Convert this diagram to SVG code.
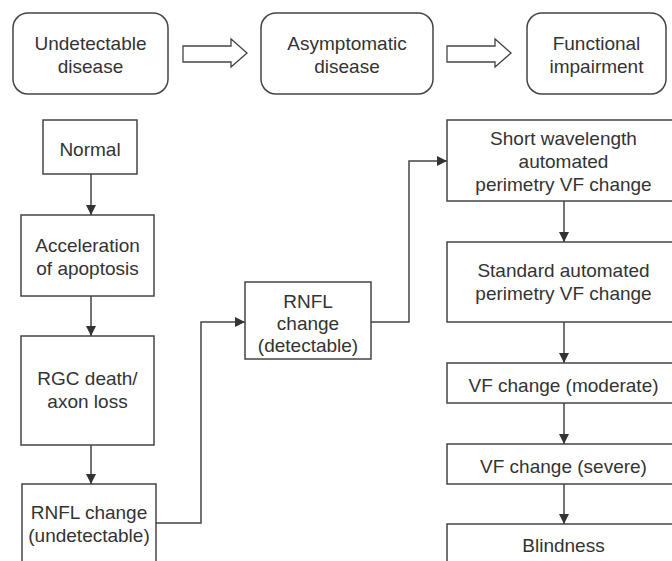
<svg xmlns="http://www.w3.org/2000/svg" width="672" height="561" viewBox="0 0 672 561">
  <style>
    .box { fill: #ffffff; stroke: #444444; stroke-width: 1.5; }
    .stage { fill: #ffffff; stroke: #444444; stroke-width: 1.5; }
    .block { fill: #ffffff; stroke: #444444; stroke-width: 1.3; stroke-linejoin: miter; }
    .lbl { font-family: "Liberation Sans", Arial, Helvetica, sans-serif; font-size: 19px; fill: #333333; text-anchor: middle; }
    .wire { fill: none; stroke: #444444; stroke-width: 1.5; }
  </style>
  <defs>
    <marker id="tip" markerUnits="userSpaceOnUse" markerWidth="10" markerHeight="10" refX="10" refY="5" orient="auto">
      <path d="M0,0 L10,5 L0,10 z" fill="#333333"/>
    </marker>
  </defs>
  <rect width="672" height="561" fill="#ffffff"/>

  <!-- Stage headers -->
  <g id="stage-undetectable">
    <rect class="stage" x="13" y="13" width="155" height="81" rx="15"/>
    <text class="lbl" x="90.5" y="50">Undetectable</text>
    <text class="lbl" x="90.5" y="73">disease</text>
  </g>
  <g id="stage-asymptomatic">
    <rect class="stage" x="261" y="13" width="172" height="81" rx="15"/>
    <text class="lbl" x="347" y="50">Asymptomatic</text>
    <text class="lbl" x="347" y="73">disease</text>
  </g>
  <g id="stage-functional">
    <rect class="stage" x="527" y="13" width="139" height="81" rx="15"/>
    <text class="lbl" x="596.5" y="50">Functional</text>
    <text class="lbl" x="596.5" y="73">impairment</text>
  </g>
  <g id="stage-arrows">
    <path class="block" d="M183,46 H231 V39 L247,53 L231,67 V62 H183 Z"/>
    <path class="block" d="M447,46 H495 V39 L511,53 L495,67 V62 H447 Z"/>
  </g>

  <!-- Left column -->
  <g id="normal">
    <rect class="box" x="43" y="120" width="94" height="54"/>
    <text class="lbl" x="90" y="156">Normal</text>
  </g>
  <g id="apoptosis">
    <rect class="box" x="21" y="215" width="133" height="81"/>
    <text class="lbl" x="87.5" y="252">Acceleration</text>
    <text class="lbl" x="87.5" y="275">of apoptosis</text>
  </g>
  <g id="rgc-death">
    <rect class="box" x="21" y="336" width="133" height="109"/>
    <text class="lbl" x="87.5" y="385">RGC death/</text>
    <text class="lbl" x="87.5" y="408">axon loss</text>
  </g>
  <g id="rnfl-undetectable">
    <rect class="box" x="22" y="484" width="134" height="100"/>
    <text class="lbl" x="89" y="519">RNFL change</text>
    <text class="lbl" x="89" y="542">(undetectable)</text>
  </g>

  <!-- Middle -->
  <g id="rnfl-detectable">
    <rect class="box" x="245" y="282" width="126" height="77"/>
    <text class="lbl" x="308" y="308">RNFL</text>
    <text class="lbl" x="308" y="330">change</text>
    <text class="lbl" x="308" y="352">(detectable)</text>
  </g>

  <!-- Right column -->
  <g id="swap">
    <rect class="box" x="447" y="120" width="233" height="81"/>
    <text class="lbl" x="563.5" y="145">Short wavelength</text>
    <text class="lbl" x="563.5" y="168">automated</text>
    <text class="lbl" x="563.5" y="191">perimetry VF change</text>
  </g>
  <g id="sap">
    <rect class="box" x="447" y="242" width="233" height="80"/>
    <text class="lbl" x="563.5" y="277">Standard automated</text>
    <text class="lbl" x="563.5" y="300">perimetry VF change</text>
  </g>
  <g id="vf-moderate">
    <rect class="box" x="447" y="363" width="233" height="40"/>
    <text class="lbl" x="563.5" y="392">VF change (moderate)</text>
  </g>
  <g id="vf-severe">
    <rect class="box" x="447" y="444" width="233" height="40"/>
    <text class="lbl" x="563.5" y="473">VF change (severe)</text>
  </g>
  <g id="blindness">
    <rect class="box" x="447" y="524" width="233" height="60"/>
    <text class="lbl" x="563.5" y="552">Blindness</text>
  </g>

  <!-- Connectors -->
  <g id="connectors">
    <line class="wire" x1="91" y1="174" x2="91" y2="215" marker-end="url(#tip)"/>
    <line class="wire" x1="91" y1="296" x2="91" y2="336" marker-end="url(#tip)"/>
    <line class="wire" x1="91" y1="445" x2="91" y2="484" marker-end="url(#tip)"/>
    <polyline class="wire" points="156,523 201,523 201,322 245,322" marker-end="url(#tip)"/>
    <polyline class="wire" points="371,322 409,322 409,161 447,161" marker-end="url(#tip)"/>
    <line class="wire" x1="564" y1="201" x2="564" y2="242" marker-end="url(#tip)"/>
    <line class="wire" x1="564" y1="322" x2="564" y2="363" marker-end="url(#tip)"/>
    <line class="wire" x1="564" y1="403" x2="564" y2="444" marker-end="url(#tip)"/>
    <line class="wire" x1="564" y1="484" x2="564" y2="524" marker-end="url(#tip)"/>
  </g>
</svg>
